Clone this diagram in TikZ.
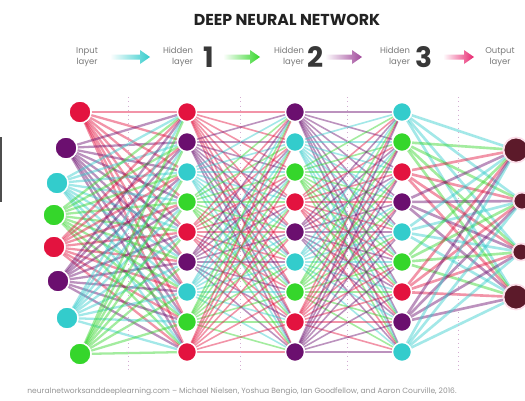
\documentclass[tikz,border=0pt]{standalone}
\usepackage{fontspec}
\setmainfont{Poppins}
\usepackage{tikz}
\usetikzlibrary{positioning,calc,backgrounds}
\definecolor{nnred}{HTML}{E3133F}
\definecolor{nnpurple}{HTML}{6B0F6F}
\definecolor{nncyan}{HTML}{33CCCC}
\definecolor{nngreen}{HTML}{35D62B}
\definecolor{nnmaroon}{HTML}{5C1A2A}
\definecolor{nnmauve}{HTML}{A0489A}
\definecolor{nnpink}{HTML}{E8246E}
\definecolor{inkdark}{HTML}{222222}
\definecolor{inkgray}{HTML}{7A7A7A}
\tikzset{
  innode/.style={circle, minimum size=0.44cm, inner sep=0pt, draw=white, line width=0.8pt},
  hidnode/.style={circle, minimum size=0.38cm, inner sep=0pt, draw=white, line width=0.8pt},
  outnode/.style={circle, fill=nnmaroon, inner sep=0pt, draw=white!85!nnpink, line width=1pt},
  edge/.style={line width=0.9pt, opacity=0.45},
  guide/.style={dotted, line width=0.5pt, color=nnmauve!45},
  caphead/.style={font=\bfseries\fontsize{9}{10}\selectfont, text=inkdark},
  laylabel/.style={font=\fontsize{4.8}{6}\selectfont, text=inkgray, align=right, inner sep=0pt},
  laynum/.style={font=\bfseries\fontsize{16}{16}\selectfont, text=inkdark!90, inner sep=0pt},
  note/.style={font=\fontsize{4.3}{5}\selectfont, text=inkgray!80, inner sep=0pt},
}

\begin{document}
\begin{tikzpicture}[x=0.02cm,y=-0.02cm]
  \useasboundingbox (0,0) rectangle (525,400);
  % heading
  \node[caphead] (title) at (287,20) {DEEP NEURAL NETWORK};
  \node[laylabel, align=center] (lin) at (87,57) {Input\\layer};
  \node[laylabel] (lh1) at (178,57) {Hidden\\layer};
  \node[laynum] (n1) at (209,57) {1};
  \node[laylabel] (lh2) at (289,57) {Hidden\\layer};
  \node[laynum] (n2) at (316,57) {2};
  \node[laylabel] (lh3) at (395,57) {Hidden\\layer};
  \node[laynum] (n3) at (424,57) {3};
  \node[laylabel, align=center] (lout) at (500,57) {Output\\layer};
  \foreach \xa/\xb/\c in {110/150/nncyan,223/260/nngreen,325/362/nnmauve,443/474/nnpink} {
    \shade[left color=white, right color=\c]
      (\xa,54.5) -- (\xb-10,54.5) -- (\xb-10,50) -- (\xb,57) -- (\xb-10,64)
      -- (\xb-10,59.5) -- (\xa,59.5) -- cycle;
  }
  % guides
  \foreach \x in {128,240,347,458} {\draw[guide] (\x,97) -- (\x,372);}
  \fill[inkdark!80] (0,137) rectangle (2.5,202);
  % input layer
  \foreach \i/\x/\y/\c in {1/80/112/nnred,2/66/148/nnpurple,3/57/183/nncyan,4/54/215/nngreen,
                           5/54/247/nnred,6/58/281/nnpurple,7/67/318/nncyan,8/80/354/nngreen} {
    \node[innode, fill=\c] (i\i) at (\x,\y) {};
  }
  % hidden layers
  \foreach \k/\ca/\cb/\cc in {1/nnred/nnpurple/nncyan,2/nnpurple/nncyan/nngreen,
      3/nncyan/nngreen/nnred,4/nngreen/nnred/nnpurple,5/nnred/nnpurple/nncyan,
      6/nnpurple/nncyan/nngreen,7/nncyan/nngreen/nnred,8/nngreen/nnred/nnpurple,
      9/nnred/nnpurple/nncyan} {
    \node[hidnode, fill=\ca] (a\k) at (187,82+30*\k) {};
    \node[hidnode, fill=\cb] (b\k) at (295,82+30*\k) {};
    \node[hidnode, fill=\cc] (c\k) at (402,82+30*\k) {};
  }
  % output layer
  \node[outnode, minimum size=0.5cm] (o1) at (516,150) {};
  \node[outnode, minimum size=0.34cm] (o2) at (522,201) {};
  \node[outnode, minimum size=0.34cm] (o3) at (521,252) {};
  \node[outnode, minimum size=0.5cm] (o4) at (516,297) {};
  % edges
  \begin{scope}[on background layer]
    \fill[white] (0,0) rectangle (525,400);
    \foreach \s/\c in {1/nnred,2/nnpurple,3/nncyan,4/nngreen,5/nnred,6/nnpurple,7/nncyan,8/nngreen} {
      \foreach \t in {1,...,9} {\draw[edge, \c, line width=1.3pt] (i\s) -- (a\t);}
    }
    \foreach \s/\ca/\cb/\cc in {1/nnred/nnpurple/nncyan,2/nnpurple/nncyan/nngreen,
        3/nncyan/nngreen/nnred,4/nngreen/nnred/nnpurple,5/nnred/nnpurple/nncyan,
        6/nnpurple/nncyan/nngreen,7/nncyan/nngreen/nnred,8/nngreen/nnred/nnpurple,
        9/nnred/nnpurple/nncyan} {
      \foreach \t in {1,...,9} {
        \draw[edge, \ca] (a\s) -- (b\t);
        \draw[edge, \cb] (b\s) -- (c\t);
      }
      \foreach \t in {1,...,4} {\draw[edge, \cc, line width=1.5pt] (c\s) -- (o\t);}
    }
  \end{scope}
  % source
  \node[note] (src) at (242,392) {neuralnetworksanddeeplearning.com -- Michael Nielsen, Yoshua Bengio, Ian Goodfellow, and Aaron Courville, 2016.};
\end{tikzpicture}
\end{document}
